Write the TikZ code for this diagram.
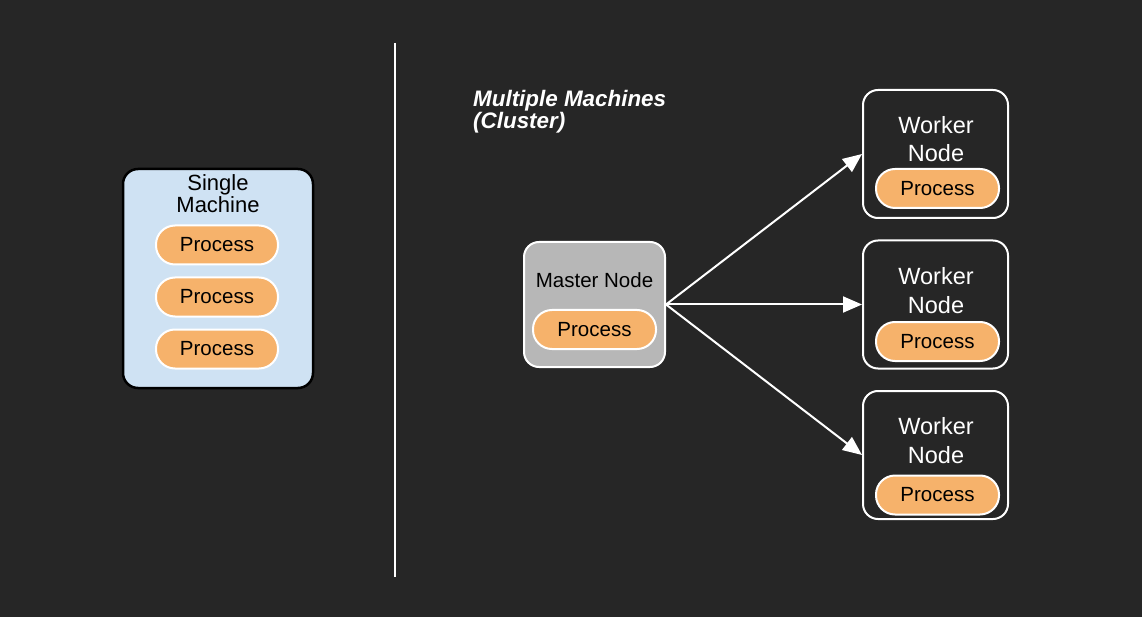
\documentclass[tikz,border=0pt]{standalone}
\usepackage{fontspec}
\setmainfont{Liberation Sans}
\usetikzlibrary{arrows.meta}
\definecolor{bg}{HTML}{262626}
\definecolor{lightblue}{HTML}{CFE2F3}
\definecolor{procorange}{HTML}{F6B26B}
\definecolor{mastergray}{HTML}{B7B7B7}
\begin{document}
\begin{tikzpicture}[x=1pt,y=-1pt,
  container/.style={draw, rectangle, rounded corners=15pt, line width=2pt, inner sep=0pt},
  pill/.style={draw=white, fill=procorange, rectangle, rounded corners=19pt, line width=2pt,
    minimum width=122pt, minimum height=39pt, inner sep=0pt, font=\fontsize{20.5}{24}\selectfont, text=black},
  lbl/.style={anchor=base, inner sep=0pt},
  conn/.style={draw=white, line width=2pt, -{Triangle[length=19pt,width=16pt]}},
  ttl/.style={anchor=base west, inner sep=0pt, text=white, font=\fontsize{22.4}{24}\selectfont\bfseries\itshape}
]
\fill[bg] (0,0) rectangle (1142,617);
\useasboundingbox (0,0) rectangle (1142,617);

% divider
\coordinate (divtop) at (395,43);
\coordinate (divbot) at (395,577);
\draw[white, line width=2pt] (divtop) -- (divbot);

% single machine
\node[container, draw=black, fill=lightblue, line width=2.5pt, minimum width=190pt, minimum height=219pt] (single) at (218,278.5) {};
\node[lbl, font=\fontsize{22}{22}\selectfont] (singlet1) at (218,190.5) {Single};
\node[lbl, font=\fontsize{22}{22}\selectfont] (singlet2) at (218,212.5) {Machine};
\node[pill] (sp1) at (217,245) {Process};
\node[pill] (sp2) at (217,297) {Process};
\node[pill] (sp3) at (217,349) {Process};

% title
\node[ttl] (title1) at (473,106.5) {Multiple Machines};
\node[ttl] (title2) at (473,128.5) {(Cluster)};

% master
\node[container, draw=white, fill=mastergray, minimum width=141pt, minimum height=125pt] (master) at (594.5,304.5) {};
\node[lbl, font=\fontsize{20.5}{24}\selectfont] (mastert) at (594.5,287.3) {Master Node};
\node[pill, minimum width=123pt] (mp) at (594.5,329.5) {Process};

% workers
\foreach \i/\cy/\top/\py in {1/154/90/188.5, 2/304.5/241/341.5, 3/455/391/495} {
  \node[container, draw=white, fill=bg, minimum width=145pt, minimum height=128pt] (w\i) at (935.5,\cy) {};
  \node[lbl, text=white, font=\fontsize{23.5}{28}\selectfont] (w\i a) at (936,\top+43.5) {Worker};
  \node[lbl, text=white, font=\fontsize{23.5}{28}\selectfont] (w\i b) at (936,\top+72) {Node};
  \node[pill, minimum width=123pt] (w\i p) at (937.5,\py) {Process};
}

% connectors
\draw[conn] (master.east) -- (w1.west);
\draw[conn] (master.east) -- (w2.west);
\draw[conn] (master.east) -- (w3.west);
\end{tikzpicture}
\end{document}
